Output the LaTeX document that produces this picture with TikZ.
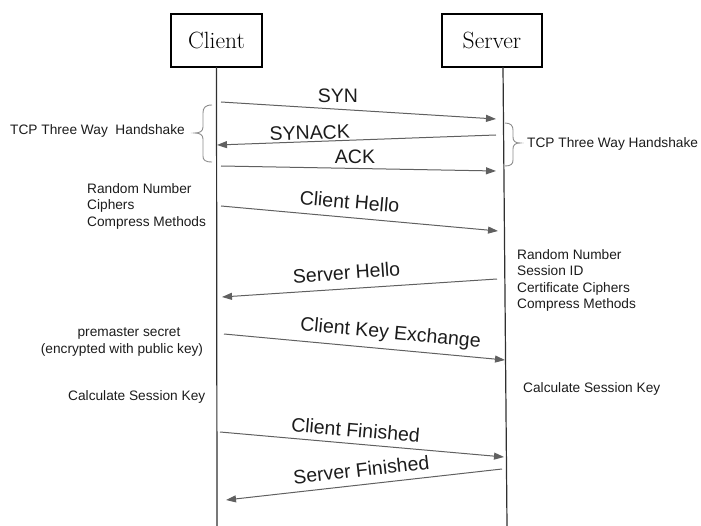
\documentclass[tikz,border=0pt]{standalone}
\usepackage{fontspec}
\newfontfamily\notefont{Liberation Sans}
\usetikzlibrary{arrows.meta}
\definecolor{msggray}{HTML}{606060}
\definecolor{linegray}{HTML}{303030}
\definecolor{bracegray}{HTML}{8C8C8C}
\definecolor{inkdark}{HTML}{1C1C1C}
\tikzset{
  actor/.style={draw=black, line width=1.8pt, inner sep=0pt, minimum height=53pt,
    font=\fontsize{23.5}{26}\selectfont},
  lifeline/.style={draw=linegray, line width=1.2pt},
  msg/.style={draw=msggray, line width=1pt, -{Triangle[length=10pt,width=7pt]}},
  msglabel/.style={font=\notefont\fontsize{19.5}{22}\selectfont, text=inkdark,
    anchor=base, inner sep=0pt},
  note/.style={font=\notefont\fontsize{13.7}{16.5}\selectfont, text=inkdark,
    inner sep=0pt, align=left},
  bracepath/.style={draw=bracegray, line width=0.9pt},
}
\begin{document}
\begin{tikzpicture}[x=1pt,y=-1pt]
\useasboundingbox (0,0) rectangle (701,526);

% participants
\node[actor, minimum width=91pt] (client) at (216.5,40.5) {Client};
\node[actor, minimum width=100pt] (server) at (492,40.5) {Server};

% lifelines
\coordinate (ctop) at (216.5,67);
\coordinate (cbot) at (217,526);
\coordinate (stop) at (503,67);
\coordinate (sbot) at (507,526);
\draw[lifeline] (ctop) -- (cbot);
\draw[lifeline] (stop) -- (sbot);

% message end points
\coordinate (syn1) at (221,102);   \coordinate (syn2) at (496,119);
\coordinate (sak1) at (496,135);   \coordinate (sak2) at (217,145);
\coordinate (ack1) at (221,166);   \coordinate (ack2) at (496,171);
\coordinate (ch1)  at (221,206);   \coordinate (ch2)  at (498,231);
\coordinate (sh1)  at (497,279);   \coordinate (sh2)  at (222,297);
\coordinate (cke1) at (224,334);   \coordinate (cke2) at (505,360);
\coordinate (cf1)  at (220,432);   \coordinate (cf2)  at (504,457);
\coordinate (sf1)  at (502,469);   \coordinate (sf2)  at (226,500);

% messages
\draw[msg] (syn1) -- (syn2);
\draw[msg] (sak1) -- (sak2);
\draw[msg] (ack1) -- (ack2);
\draw[msg] (ch1) -- (ch2);
\draw[msg] (sh1) -- (sh2);
\draw[msg] (cke1) -- (cke2);
\draw[msg] (cf1) -- (cf2);
\draw[msg] (sf1) -- (sf2);

% message labels
\node[msglabel] (lsyn) at (338,103) {SYN};
\node[msglabel, rotate=2] (lsak) at (310,139.5) {SYNACK};
\node[msglabel] (lack) at (355,163.5) {ACK};
\node[msglabel, rotate=-5] (lch) at (349,208.5) {Client Hello};
\node[msglabel, rotate=4] (lsh) at (347,279.5) {Server Hello};
\node[msglabel, rotate=-5.3] (lcke) at (390,339) {Client Key Exchange};
\node[msglabel, rotate=-5] (lcf) at (355,437) {Client Finished};
\node[msglabel, rotate=6.5] (lsf) at (362,476.5) {Server Finished};

% handshake braces
\draw[bracepath] (212,105) .. controls (205,105) and (203,108) .. (203,113)
  -- (203,127) .. controls (203,131) and (200,133) .. (195,133)
  .. controls (200,133) and (203,135) .. (203,139)
  -- (203,156) .. controls (203,160) and (205,162) .. (212,162);
\draw[bracepath] (505,123) .. controls (511,123) and (513,126) .. (513,130)
  -- (513,137) .. controls (513,141) and (515,143) .. (520,143)
  .. controls (515,143) and (513,145) .. (513,149)
  -- (513,160) .. controls (513,164) and (511,166) .. (505,166);

% side notes
\node[note, anchor=base west] (tcpl) at (10,135) {TCP Three Way \ Handshake};
\node[note, anchor=base west] (tcpr) at (527,148) {TCP Three Way Handshake};
\node[note, anchor=north west] (chnote) at (87,183)
  {Random Number\\Ciphers\\Compress Methods};
\node[note, anchor=north west] (shnote) at (517,249)
  {Random Number\\Session ID\\Certificate Ciphers\\Compress Methods};
\node[note, anchor=base] (pms1) at (129,337) {premaster secret};
\node[note, anchor=base] (pms2) at (122,353.5) {(encrypted with public key)};
\node[note, anchor=base west] (csk) at (68,400) {Calculate Session Key};
\node[note, anchor=base west] (ssk) at (523,392) {Calculate Session Key};
\end{tikzpicture}
\end{document}
